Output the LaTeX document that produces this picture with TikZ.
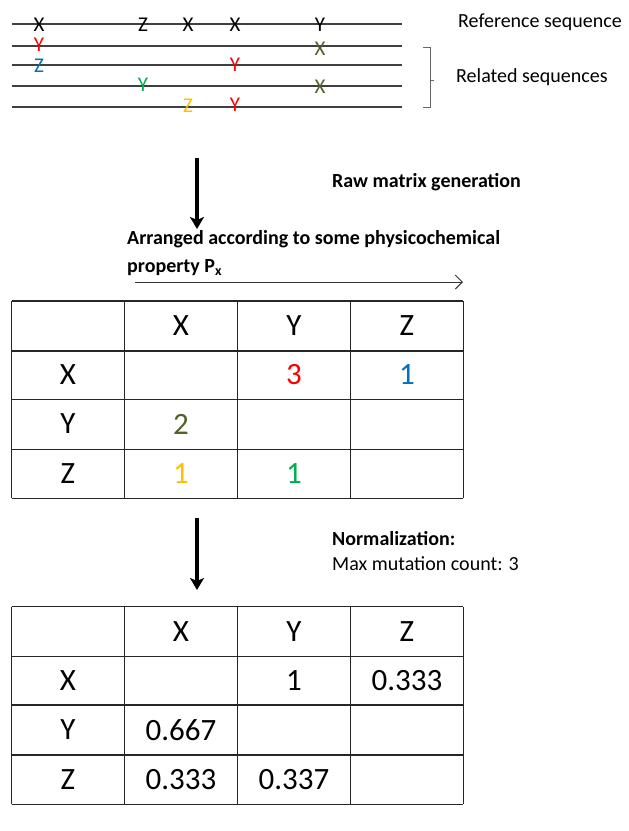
\documentclass[tikz,border=0pt]{standalone}
\usepackage{fontspec}
\setmainfont{Carlito}
\usetikzlibrary{positioning, arrows.meta}
\definecolor{seqred}{RGB}{255,0,0}
\definecolor{seqblue}{RGB}{0,112,192}
\definecolor{seqgreen}{RGB}{0,176,80}
\definecolor{seqgold}{RGB}{255,192,0}
\definecolor{seqolive}{RGB}{79,98,40}

\begin{document}
\begin{tikzpicture}[
    x=1pt, y=-1pt,
    seqline/.style={draw=black!75, line width=1.3pt},
    letter/.style={font=\fontsize{21}{21}\selectfont, inner sep=0pt},
    cell/.style={font=\fontsize{31}{31}\selectfont, inner sep=0pt},
    grid/.style={draw=black!85, line width=1.3pt},
    caption/.style={font=\fontsize{20}{20}\selectfont, anchor=west, inner sep=0pt},
    steplabel/.style={font=\bfseries\fontsize{20}{28}\selectfont, anchor=west, align=left, inner sep=0pt},
    bigarrow/.style={-{Stealth[length=12pt, width=14pt, inset=3pt]}, line width=3.4pt},
    axisarrow/.style={-{Straight Barb[length=7pt, width=14pt]}, line width=1pt, draw=black!80}
]
\useasboundingbox (0,0) rectangle (629,831);

% sequences
\foreach \y in {24,46,65,86,107}
    \draw[seqline] (12,\y) -- (402,\y);

\node[letter] (ref1) at (39,24.5) {X};
\node[letter] (ref2) at (143,24.5) {Z};
\node[letter] (ref3) at (188,24.5) {X};
\node[letter] (ref4) at (235,24.5) {X};
\node[letter] (ref5) at (320,24.5) {Y};
\node[letter, seqred] (rela1) at (39,44.5) {Y};
\node[letter, seqolive] (rela2) at (320,48.5) {X};
\node[letter, seqblue] (relb1) at (39,66) {Z};
\node[letter, seqred] (relb2) at (235,65) {Y};
\node[letter, seqgreen] (relc1) at (143,85) {Y};
\node[letter, seqolive] (relc2) at (320,86.5) {X};
\node[letter, seqgold] (reld1) at (188,105.5) {Z};
\node[letter, seqred] (reld2) at (235,105) {Y};

% bracket
\draw[draw=black!60, line width=1pt] (423,47) -- (430,47) -- (430,107) -- (423,107);
\draw[draw=black!60, line width=1pt] (430,80) -- (434,80);

\node[caption] (reflabel) at (458,22) {Reference sequence};
\node[caption] (rellabel) at (456,77) {Related sequences};

% raw matrix
\coordinate (downA) at (197,158);
\coordinate (downAend) at (197,229);
\draw[bigarrow] (downA) -- (downAend);
\node[steplabel] (rawlabel) at (332,182) {Raw matrix generation};
\node[steplabel] (proplabel) at (127,253) {Arranged according to some physicochemical\\property P\textsubscript{x}};
\coordinate (axisstart) at (135,282);
\coordinate (axisend) at (463,282);
\draw[axisarrow] (axisstart) -- (axisend);

\foreach \x in {11.5,124.7,237.3,350.7,463.3}
    \draw[grid] (\x,301) -- (\x,498.3);
\foreach \y in {301,351,399.3,449.3,498.3}
    \draw[grid] (11.5,\y) -- (463.3,\y);

\foreach \cx/\cy/\txt/\clr [count=\n] in {181/326/X/black, 294/326/Y/black, 407/326/Z/black,
    68/375/X/black, 68/424/Y/black, 68/474/Z/black,
    294/375/3/seqred, 407/375/1/seqblue, 181/424/2/seqolive,
    181/474/1/seqgold, 294/474/1/seqgreen}
    \node[cell, text=\clr] (raw\n) at (\cx,\cy) {\txt};

% normalized matrix
\coordinate (downB) at (197,518);
\coordinate (downBend) at (197,590);
\draw[bigarrow] (downB) -- (downBend);
\node[steplabel, font=\fontsize{20}{25}\selectfont] (normlabel) at (332,551) {\textbf{Normalization:}\\Max mutation count: 3};

\foreach \x in {11.5,124.7,237.3,350.7,463.3}
    \draw[grid] (\x,606.7) -- (\x,804.3);
\foreach \y in {606.7,656.7,705,755,804.3}
    \draw[grid] (11.5,\y) -- (463.3,\y);

\foreach \cx/\cy/\txt [count=\n] in {181/632/X, 294/632/Y, 407/632/Z,
    68/681/X, 68/730/Y, 68/780/Z,
    294/681/1, 407/681/0.333, 181/730/0.667,
    181/780/0.333, 294/780/0.337}
    \node[cell] (norm\n) at (\cx,\cy) {\txt};
\end{tikzpicture}
\end{document}
